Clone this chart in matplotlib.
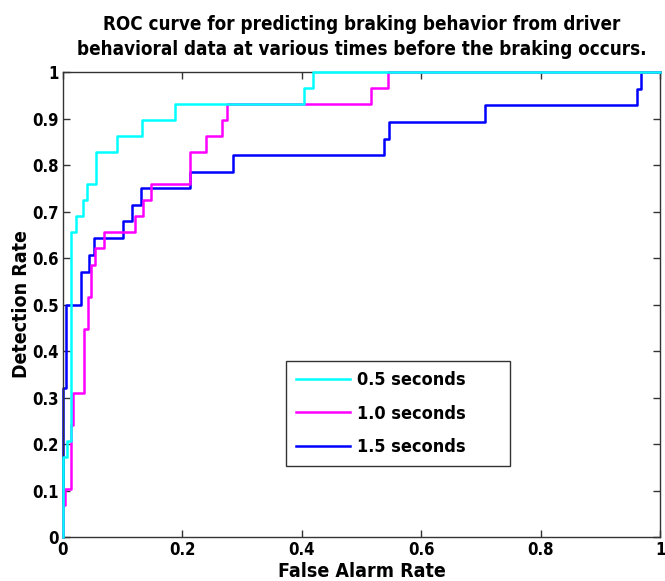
import matplotlib
matplotlib.use('Agg')
import matplotlib.pyplot as plt
from matplotlib import font_manager as fm

# ROC vertices (false alarm rate, detection rate)
fpr_05 = [0, 0, 0.006, 0.006, 0.013, 0.013, 0.021, 0.021, 0.034, 0.034, 0.041, 0.041,
          0.056, 0.056, 0.090, 0.090, 0.133, 0.133, 0.188, 0.188, 0.404, 0.404, 0.418, 0.418, 1.0]
tpr_05 = [0, 0.172, 0.172, 0.207, 0.207, 0.655, 0.655, 0.690, 0.690, 0.724, 0.724, 0.759,
          0.759, 0.828, 0.828, 0.862, 0.862, 0.897, 0.897, 0.931, 0.931, 0.966, 0.966, 1.0, 1.0]

fpr_10 = [0, 0, 0.003, 0.003, 0.013, 0.013, 0.017, 0.017, 0.035, 0.035, 0.042, 0.042, 0.047,
          0.047, 0.054, 0.054, 0.069, 0.069, 0.120, 0.120, 0.134, 0.134, 0.147, 0.147, 0.212,
          0.212, 0.240, 0.240, 0.267, 0.267, 0.274, 0.274, 0.515, 0.515, 0.544, 0.544, 1.0]
tpr_10 = [0, 0.069, 0.069, 0.103, 0.103, 0.241, 0.241, 0.310, 0.310, 0.448, 0.448, 0.517, 0.517,
          0.586, 0.586, 0.621, 0.621, 0.655, 0.655, 0.690, 0.690, 0.724, 0.724, 0.759, 0.759,
          0.828, 0.828, 0.862, 0.862, 0.897, 0.897, 0.931, 0.931, 0.966, 0.966, 1.0, 1.0]

fpr_15 = [0, 0, 0.005, 0.005, 0.030, 0.030, 0.043, 0.043, 0.052, 0.052, 0.101, 0.101, 0.116,
          0.116, 0.131, 0.131, 0.212, 0.212, 0.284, 0.284, 0.538, 0.538, 0.546, 0.546, 0.706,
          0.706, 0.961, 0.961, 0.968, 0.968, 1.0]
tpr_15 = [0, 0.321, 0.321, 0.5, 0.5, 0.571, 0.571, 0.607, 0.607, 0.643, 0.643, 0.679, 0.679,
          0.714, 0.714, 0.75, 0.75, 0.786, 0.786, 0.821, 0.821, 0.857, 0.857, 0.893, 0.893,
          0.929, 0.929, 0.964, 0.964, 1.0, 1.0]

labels = ['0.5 seconds', '1.0 seconds', '1.5 seconds']
colors = ['#00ffff', '#ff00ff', '#0000ff']

xticks = [0, 0.2, 0.4, 0.6, 0.8, 1]
xticklabels = ['0', '0.2', '0.4', '0.6', '0.8', '1']
yticks = [0, 0.1, 0.2, 0.3, 0.4, 0.5, 0.6, 0.7, 0.8, 0.9, 1]
yticklabels = ['0', '0.1', '0.2', '0.3', '0.4', '0.5', '0.6', '0.7', '0.8', '0.9', '1']

# pick a narrow bold sans if there is one, the original looks condensed
names = {f.name for f in fm.fontManager.ttflist}
condensed = [f for f in fm.fontManager.ttflist
             if f.name == 'DejaVu Sans' and 'ondensed' in str(f.stretch) + f.fname]
if 'Liberation Sans Narrow' in names:
    font = dict(family='Liberation Sans Narrow')
elif condensed:
    font = dict(family='DejaVu Sans', stretch='condensed')
else:
    font = dict(family='Liberation Sans')

plt.rcParams['font.family'] = font['family']
if 'stretch' in font:
    plt.rcParams['font.stretch'] = font['stretch']
plt.rcParams['font.weight'] = 'bold'

fig = plt.figure(figsize=(6.65, 5.81), dpi=100)
ax = fig.add_axes([0.0947, 0.0757, 0.8983, 0.8003])

# cyan ends up on top in the original, so draw it last
lines = []
for x, y, c, lab, z in zip([fpr_05, fpr_10, fpr_15], [tpr_05, tpr_10, tpr_15],
                           colors, labels, [2.6, 2.4, 2.2]):
    ln, = ax.plot(x, y, color=c, lw=1.8, label=lab, clip_on=False, zorder=z)
    lines.append(ln)

ax.set_xlim(0, 1)
ax.set_ylim(0, 1)
ax.set_xticks(xticks)
ax.set_xticklabels(xticklabels)
ax.set_yticks(yticks)
ax.set_yticklabels(yticklabels)
ax.tick_params(direction='in', length=5, width=1, top=True, right=True,
               labelsize=12, pad=3, colors='#333333', labelcolor='black')
for s in ax.spines.values():
    s.set_color('#333333')
    s.set_linewidth(1)

ax.set_xlabel('False Alarm Rate', fontsize=14, fontweight='bold', labelpad=2)
ax.set_ylabel('Detection Rate', fontsize=14, fontweight='bold', labelpad=1)
ax.set_title('ROC curve for predicting braking behavior from driver\n'
             'behavioral data at various times before the braking occurs.',
             fontsize=13.5, fontweight='bold', pad=12, linespacing=1.45)

leg = ax.legend(handles=lines, loc='lower left', bbox_to_anchor=(0.374, 0.153, 0.375, 0.223),
                mode='expand', fontsize=13, handlelength=3.0, handletextpad=0.35,
                labelspacing=0.85, borderpad=0.55, borderaxespad=0, fancybox=False,
                framealpha=1)
leg.get_frame().set_edgecolor('#333333')
leg.get_frame().set_linewidth(1)

fig.savefig('out.png', dpi=100)
